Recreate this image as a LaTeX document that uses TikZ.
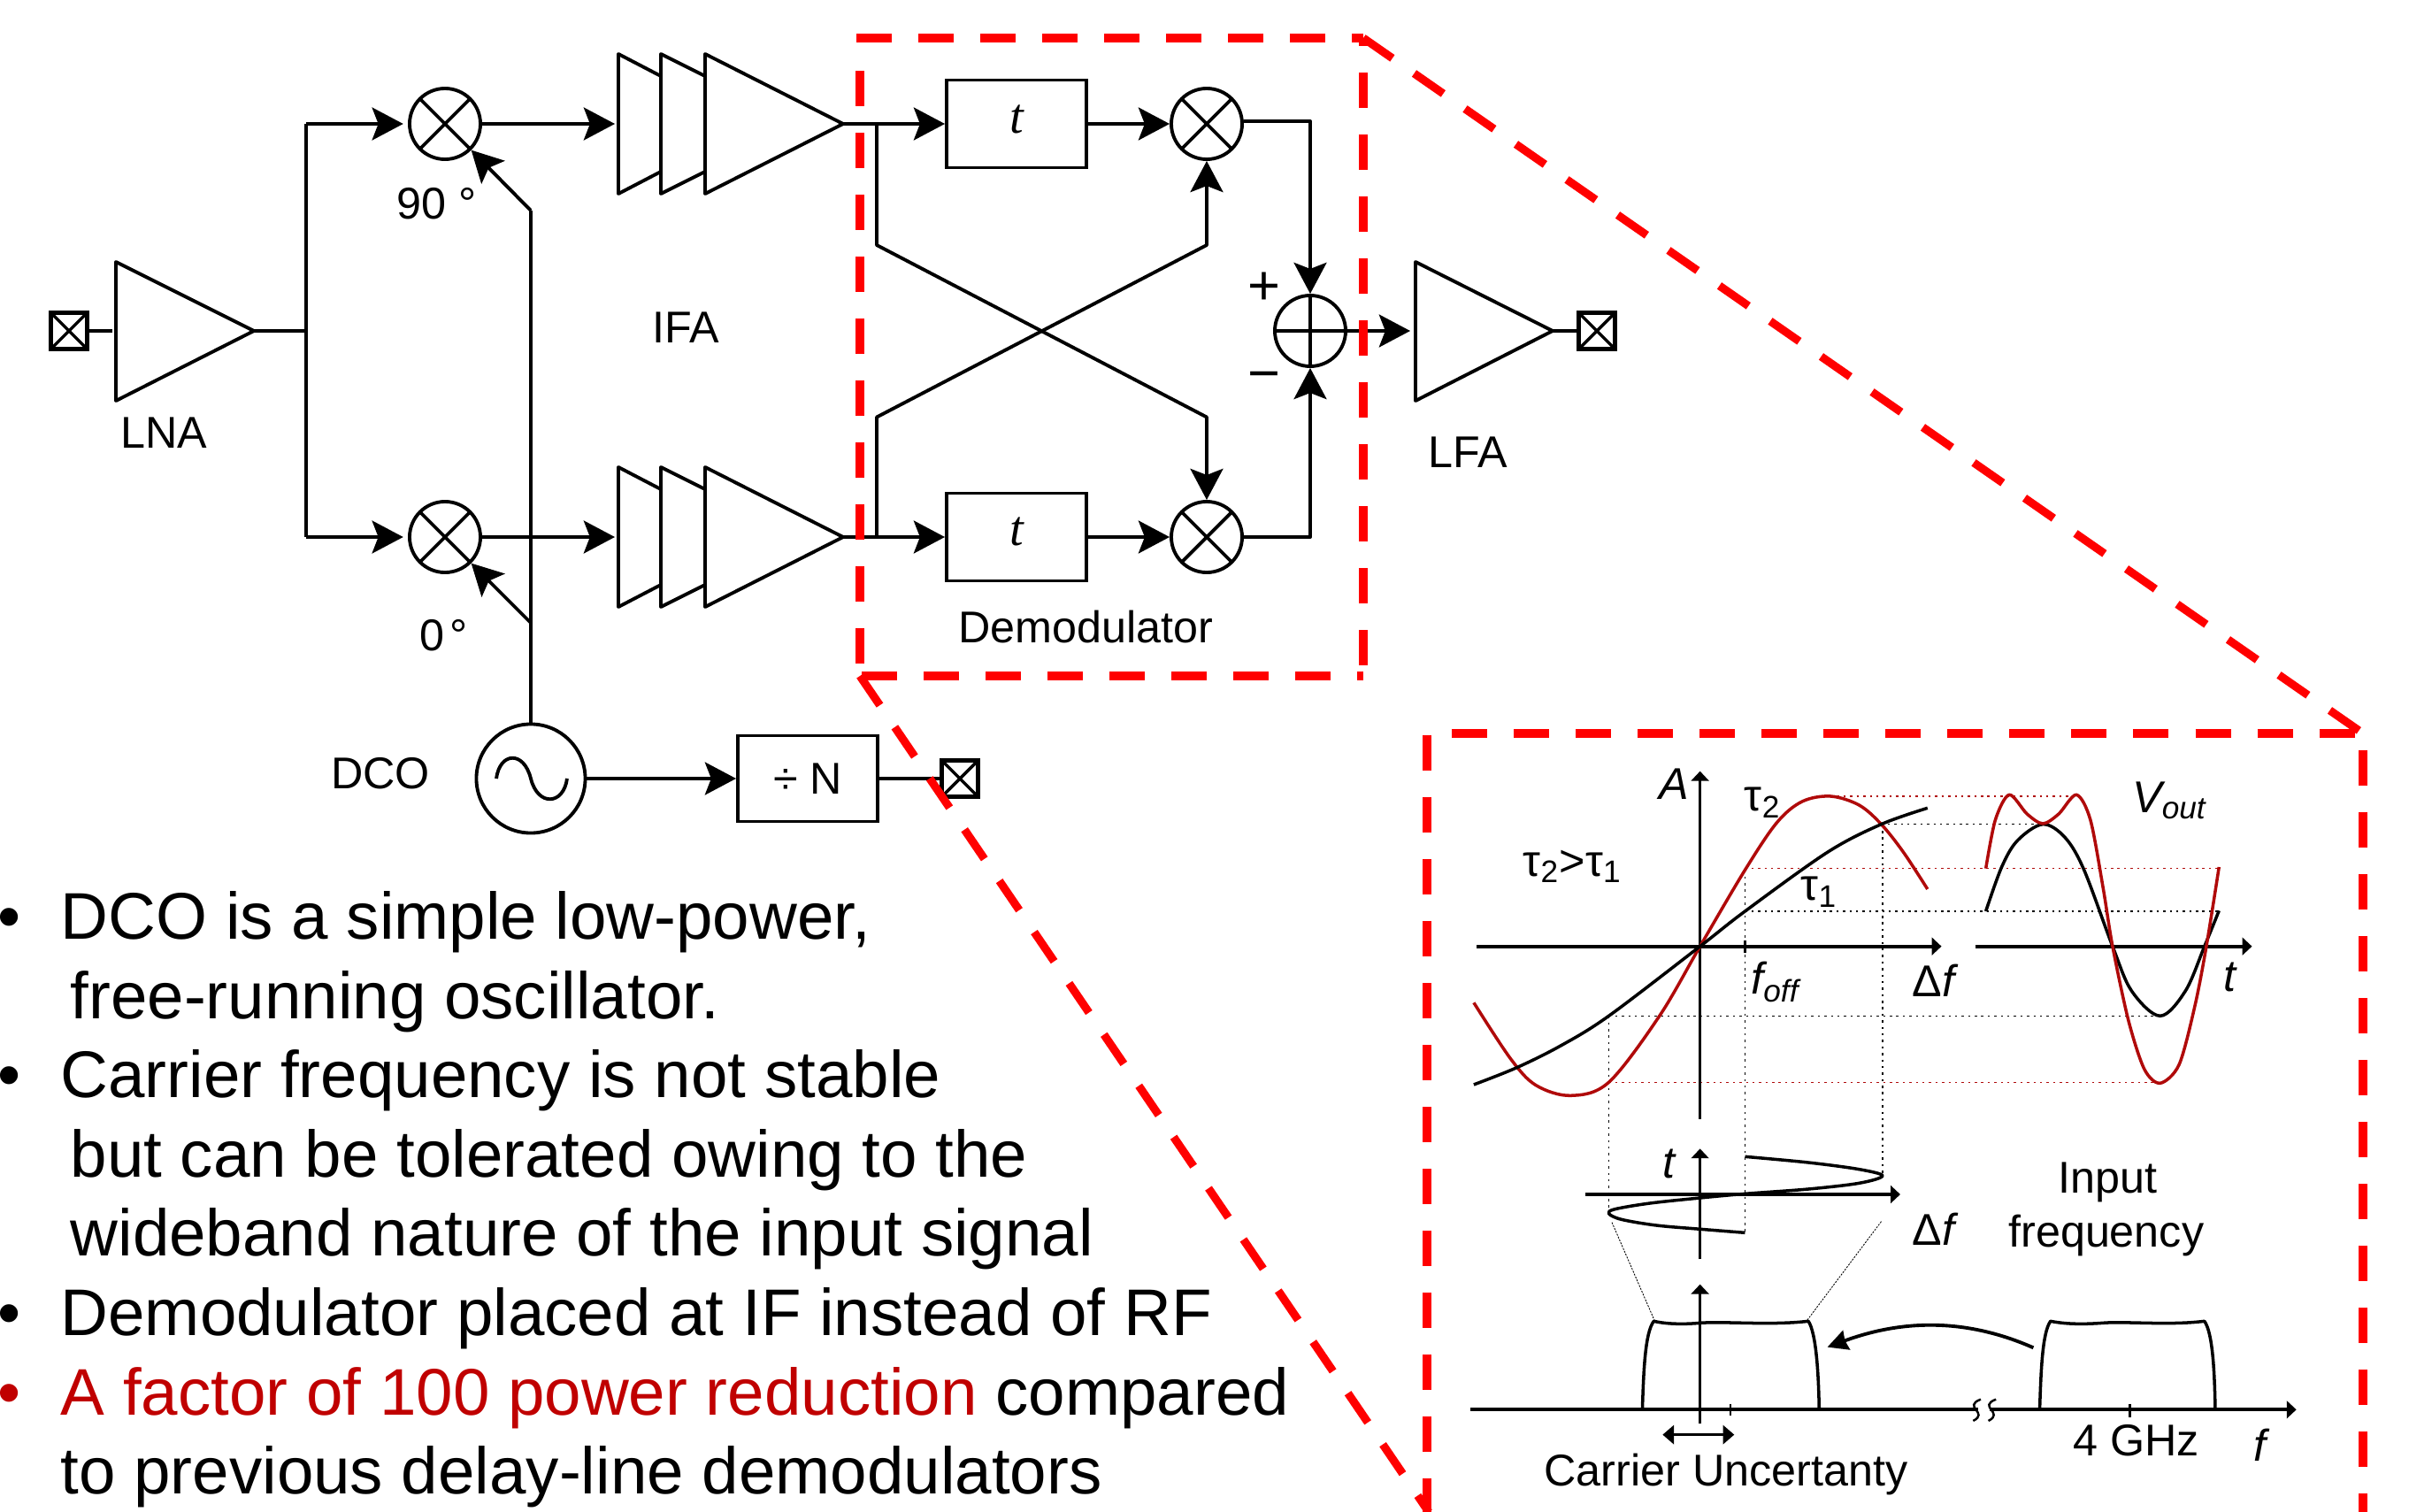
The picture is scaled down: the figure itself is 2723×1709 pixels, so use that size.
\documentclass[tikz,border=0pt]{standalone}
\usepackage{fontspec}
\setmainfont{Liberation Sans}
\newfontfamily\timesf{Liberation Serif}
\usetikzlibrary{arrows.meta,calc}
\definecolor{dashred}{HTML}{FF0000}
\definecolor{curvered}{HTML}{B00A0A}
\definecolor{textred}{HTML}{C00000}
\tikzset{
  wire/.style={line width=1.1pt,line join=round},
  arrowwire/.style={wire,-{Stealth[length=10pt,width=10.5pt,inset=2pt]}},
  blockbox/.style={draw,line width=1.1pt,rectangle,inner sep=0pt},
  mixer/.style={draw,line width=1.1pt,circle,minimum size=0.8cm,inner sep=0pt,
    path picture={\draw[line width=1.1pt] (path picture bounding box.north west)--(path picture bounding box.south east)
      (path picture bounding box.north east)--(path picture bounding box.south west);}},
  adder/.style={draw,line width=1.1pt,circle,minimum size=0.8cm,inner sep=0pt,
    path picture={\draw[line width=1.1pt] (path picture bounding box.north)--(path picture bounding box.south)
      (path picture bounding box.east)--(path picture bounding box.west);}},
  pad/.style={draw,line width=1.2pt,rectangle,minimum size=0.41cm,inner sep=0pt,
    path picture={\draw[line width=1pt] (path picture bounding box.north west)--(path picture bounding box.south east)
      (path picture bounding box.north east)--(path picture bounding box.south west);}},
  lab/.style={font=\fontsize{14.3}{16}\selectfont,inner sep=0pt},
  signlab/.style={font=\fontsize{18}{18}\selectfont,inner sep=0pt},
  big/.style={font=\fontsize{21.2}{26}\selectfont,inner sep=0pt,anchor=base west},
  redbox/.style={dashred,line width=2.6pt,dash pattern=on 0.4cm off 0.3cm},
  axis/.style={line width=1.2pt,-{Stealth[length=3.1pt,width=5.6pt,inset=0pt]}},
  thinaxis/.style={line width=0.8pt,-{Stealth[length=3.1pt,width=5.6pt,inset=0pt]}},
  curve/.style={line width=1pt,line join=round},
  dots/.style={line width=0.4pt,dash pattern=on 0.7pt off 1.4pt},
}
\begin{document}
\begin{tikzpicture}[x=0.01cm,y=-0.01cm]
\clip (0,0) rectangle (2723,1709);
\fill[white] (0,0) rectangle (2723,1709);
% amplifiers
\coordinate (lnaTip) at (287,374);
\coordinate (lfaTip) at (1755,374);
\coordinate (ifaTipA) at (953,140);
\coordinate (ifaTipB) at (953,607);
\draw[wire] (131,296) -- (lnaTip) -- (131,453) -- cycle;
\draw[wire] (1600,296) -- (lfaTip) -- (1600,453) -- cycle;
\foreach \cy/\tip in {140/ifaTipA,607/ifaTipB}{
  \draw[wire] (797,\cy-79) -- (\tip) -- (797,\cy+79) -- cycle;
  \draw[wire] (797,\cy-54) -- (747,\cy-79) -- (747,\cy+79) -- (797,\cy+54);
  \draw[wire] (747,\cy-54) -- (699,\cy-79) -- (699,\cy+79) -- (747,\cy+54);
}
% nodes
\node[pad] (padIn) at (78,374) {};
\node[pad] (padOut) at (1805,374) {};
\node[pad] (padDiv) at (1085,880) {};
\node[mixer] (mA) at (503,140) {};
\node[mixer] (mB) at (503,607) {};
\node[mixer] (mC) at (1364,140) {};
\node[mixer] (mD) at (1364,607) {};
\node[adder] (sum) at (1481,374) {};
\node[blockbox,minimum width=1.58cm,minimum height=0.99cm] (tA) at (1149,140) {};
\node[blockbox,minimum width=1.58cm,minimum height=0.99cm] (tB) at (1149,607) {};
\node[lab,font=\fontsize{16}{16}\selectfont\timesf\itshape] (tAl) at (1149,135) {t};
\node[lab,font=\fontsize{16}{16}\selectfont\timesf\itshape] (tBl) at (1149,601) {t};
\node[blockbox,minimum width=1.58cm,minimum height=0.97cm,lab] (div) at (913,880) {÷ N\hspace{0.14cm}};
\node[draw,line width=1.1pt,circle,minimum size=1.23cm,inner sep=0pt] (dco) at (600,880) {};
\draw[wire] (561,880) .. controls (565,850) and (592,848) .. (600,880) .. controls (608,912) and (637,910) .. (641,880);
% connectors
\coordinate (split) at (346,374);
\coordinate (splitA) at (346,140);
\coordinate (splitB) at (346,607);
\draw[wire] (padIn) -- (127,374);
\draw[wire] (lnaTip) -- (split);
\draw[wire] (splitA) -- (splitB);
\draw[arrowwire,shorten >=1.5pt] (splitA) -- (mA);
\draw[arrowwire,shorten >=1.5pt] (splitB) -- (mB);
\draw[arrowwire] (mA) -- (695,140);
\draw[arrowwire] (mB) -- (695,607);
\coordinate (loA) at (600,238);
\coordinate (loB) at (600,704);
\draw[wire] (dco.north) -- (loA);
\draw[arrowwire] (loA) -- (mA.south east);
\draw[arrowwire] (loB) -- (mB.south east);
\draw[arrowwire] (dco.east) -- (div.west);
\draw[wire] (div.east) -- (padDiv.west);
\draw[arrowwire] (ifaTipA) -- (tA.west);
\draw[arrowwire] (ifaTipB) -- (tB.west);
\draw[arrowwire] (tA) -- (mC.west);
\draw[arrowwire] (tB) -- (mD.west);
\coordinate (brA) at (991,140);
\coordinate (brB) at (991,607);
\draw[arrowwire] (brA) -- (991,277) -- (1364,471.5) -- (mD.north);
\draw[arrowwire] (brB) -- (991,471.5) -- (1364,277) -- (mC.south);
\draw[arrowwire] (mC.east |- 0,137) -- (1481,137) -- (sum.north);
\draw[arrowwire] (mD.east) -- (1481,607) -- (sum.south);
\draw[arrowwire] (sum.east) -- (1594,374);
\draw[wire] (lfaTip) -- (padOut.west);
% labels
\node[lab] (lLNA) at (185,489) {LNA};
\node[lab] (lIFA) at (775,370) {IFA};
\node[lab] (lDCO) at (430,874) {DCO};
\node[lab] (l90) at (494,230) {90 °};
\node[lab] (l0) at (502,718) {0\hspace{0.12em}°};
\node[lab] (lLFA) at (1659,511) {LFA};
\node[lab] (lDem) at (1227,709) {Demodulator};
\node[signlab] (lPlus) at (1429,326) {+};
\node[signlab] (lMinus) at (1429,432) {−};
% bullet text
\node[big] (b1) at (-3,1061) {•};
\node[big] (t1) at (68,1061) {DCO is a simple low-power,};
\node[big] (t2) at (79,1151) {free-running oscillator.};
\node[big] (b2) at (-3,1240) {•};
\node[big] (t3) at (68,1240) {Carrier frequency is not stable};
\node[big] (t4) at (79,1330) {but can be tolerated owing to the};
\node[big] (t5) at (79,1419) {wideband nature of the input signal};
\node[big] (b3) at (-3,1509) {•};
\node[big] (t6) at (68,1509) {Demodulator placed at IF instead of RF};
\node[big,textred] (b4) at (-3,1599) {•};
\node[big] (t7) at (68,1599) {\textcolor{textred}{A factor of 100 power reduction} compared};
\node[big] (t8) at (68,1688) {to previous delay-line demodulators};
% characteristic curves (upper panel)
\begin{scope}[shift={(1600,820)},xscale=0.7163,yscale=0.3333]
  \draw[dots,curvered] (655,240) -- (1040,240) (520,485) -- (1268,485) (305,1210) -- (1175,1210);
  \draw[dots] (735,335) -- (990,335) (520,630) -- (1268,630) (305,985) -- (1175,985);
  \draw[dots] (520,490) -- (520,1720) (737,335) -- (737,1525) (305,985) -- (305,1640);
  \draw[axis] (97,749) -- (830,749);
  \draw[axis] (883,749) -- (1320,749);
  \draw[thinaxis] (449,1335) -- (449,155);
  \draw[line width=0.8pt] (520,730) -- (520,770);
  \draw[curve,curvered] plot[smooth,tension=0.55] coordinates {(808,555)(770,430)(735,335)(700,270)(655,240)(610,258)(570,330)(520,490)(449,749)(385,985)(305,1210)(245,1255)(190,1220)(150,1130)(92,940)};
  \draw[curve] plot[smooth,tension=0.55] coordinates {(808,280)(735,335)(650,430)(520,630)(449,749)(305,985)(230,1085)(160,1160)(92,1218)};
  \draw[curve] plot[smooth,tension=0.55] coordinates {(900,630)(925,480)(950,390)(990,335)(1025,380)(1055,490)(1100,749)(1130,900)(1175,985)(1215,900)(1245,749)(1268,628)};
  \draw[curve,curvered] plot[smooth,tension=0.5] coordinates {(900,485)(915,320)(937,235)(965,300)(990,333)(1015,300)(1043,235)(1065,320)(1085,550)(1100,749)(1125,1000)(1150,1165)(1175,1213)(1205,1150)(1230,950)(1248,749)(1268,480)};
  \node[lab] (lA) at (408,200) {\itshape A};
  \node[lab] (lt2) at (548,262) {τ\textsubscript{2}};
  \node[lab] (lt21) at (248,478) {τ\textsubscript{2}>τ\textsubscript{1}};
  \node[lab] (lt1) at (637,565) {τ\textsubscript{1}};
  \node[lab] (lV) at (1190,255) {\itshape V\textsubscript{out}};
  \node[lab] (lfo) at (568,870) {\itshape f\textsubscript{off}};
  \node[lab] (ldf) at (820,865) {Δ\textit{f}};
  \node[lab] (lt) at (1285,855) {\itshape t};
\end{scope}
% lower panels
\begin{scope}[shift={(1600,1250)},xscale=0.7163,yscale=0.3333]
  \draw[line width=0.25pt,dash pattern=on 0.6pt off 0.4pt] (310,395) -- (377,727) (735,392) -- (618,727);
  \draw[axis] (268,300) -- (765,300);
  \draw[thinaxis] (449,520) -- (449,145);
  \draw[curve] plot[smooth,tension=0.55] coordinates {(520,172)(620,192)(700,215)(737,237)(700,262)(620,282)(520,298)(449,312)(370,330)(315,350)(305,365)(325,385)(380,405)(450,418)(520,430)};
  \draw[axis] (87,1030) -- (1390,1030);
  \draw[thinaxis] (449,1078) -- (449,605);
  \draw[curve] (358,1030) .. controls (360,900) and (362,770) .. (376,730) .. controls (400,742) and (430,740) .. (449,736) .. controls (490,730) and (560,745) .. (620,730) .. controls (632,770) and (636,900) .. (637,1030);
  \draw[curve] (985,1030) .. controls (987,900) and (989,770) .. (1002,730) .. controls (1030,742) and (1060,740) .. (1085,736) .. controls (1120,730) and (1190,745) .. (1245,730) .. controls (1258,770) and (1261,900) .. (1262,1030);
  \draw[line width=0.8pt] (497,1010) -- (497,1050) (1127,1010) -- (1127,1055);
  \fill[white] (888,1015) rectangle (906,1045);
  \draw[line width=0.7pt] (892,995) .. controls (862,1020) and (906,1040) .. (880,1068) (916,995) .. controls (886,1020) and (930,1040) .. (904,1068);
  \draw[line width=1.1pt,-{Stealth[length=6.5pt,width=6.5pt,inset=0.5pt]}] (975,820) .. controls (880,730) and (780,715) .. (650,818);
  \draw[line width=0.8pt,{Stealth[length=3.6pt,width=6pt,inset=0pt]}-{Stealth[length=3.6pt,width=6pt,inset=0pt]}] (390,1115) -- (503,1115);
  \node[lab] (lt3) at (400,195) {\itshape t};
  \node[lab] (ldf2) at (820,418) {Δ\textit{f}};
  \node[lab] (lIn) at (1092,258) {Input};
  \node[lab] (lFr) at (1090,440) {frequency};
  \node[lab] (lCU) at (490,1250) {Carrier Uncertanty};
  \node[lab] (l4G) at (1137,1135) {4 GHz};
  \node[lab] (lf) at (1332,1150) {\itshape f};
\end{scope}
% red dashed zoom frames
\coordinate (fA) at (972,764);
\coordinate (fB) at (1541,43);
\coordinate (fC) at (1541,764);
\coordinate (gA) at (1613,829);
\coordinate (gB) at (2671,829);
\draw[redbox] (968,43) -- (fB);
\draw[redbox] (972,80) -- (fA);
\draw[redbox] (974,764) -- (fC);
\draw[redbox,dash phase=0.31cm] (fB) -- (fC);
\draw[redbox] (fB) -- (gB);
\draw[redbox] (fA) -- (1615,1709);
\draw[redbox] (1641,829) -- (gB);
\draw[redbox] (1613,831) -- (1613,1709);
\draw[redbox] (2671,848) -- (2671,1709);
\end{tikzpicture}
\end{document}
